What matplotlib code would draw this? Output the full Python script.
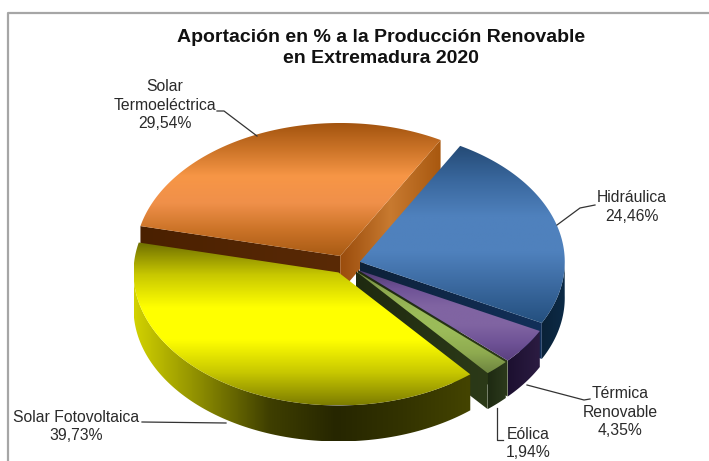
import numpy as np
import matplotlib
matplotlib.use("Agg")
import matplotlib.pyplot as plt
from matplotlib.colors import LinearSegmentedColormap
from matplotlib.patches import Polygon

plt.rcParams['font.family'] = ['Liberation Sans', 'DejaVu Sans']

title_text = "Aportación en % a la Producción Renovable\nen Extremadura 2020"
categories = ["Solar Fotovoltaica", "Eólica", "Térmica\nRenovable", "Hidráulica", "Solar\nTermoeléctrica"]
values = [39.73, 1.94, 4.35, 24.46, 29.54]
value_labels = ["39,73%", "1,94%", "4,35%", "24,46%", "29,54%"]

top_colors = [["#6e6e00", "#c8c800", "#ffff00", "#ffff00", "#c8c800", "#7d7d00"],
              ["#6e8540", "#8fab50", "#9bbb59", "#9bbb59", "#8fab50", "#6e8540"],
              ["#4f3a70", "#6f5296", "#8064a2", "#8064a2", "#6f5296", "#5a4080"],
              ["#244a75", "#3a689e", "#4f81bd", "#4f81bd", "#3a689e", "#24507f"],
              ["#a3540f", "#cc7428", "#f79646", "#f0904a", "#cc7428", "#a85a14"]]
side_colors = [["#d2d200", "#8a8a00", "#3f3f00", "#262600", "#333300", "#444400"],
               ["#1e2a12", "#2c3a1c"],
               ["#1c1030", "#2c1c42"],
               ["#0a2238", "#0c2a46"],
               None]
radial_colors = [None, ["#1f2a10", "#2c3a18"], ["#1f2a10", "#2c3a18"], ["#0d2138", "#12305a"], ["#4a2000", "#5a2a06"]]
termo_face = ["#9a4c0c", "#c87a30", "#a8580f"]

W, H = 709, 461
CX, CY, RX, RY, DEPTH = 346.0, 264.5, 205.0, 133.0, 36.0

fig = plt.figure(figsize=(W / 100, H / 100), dpi=100, facecolor="white")
ax = fig.add_axes([0, 0, 1, 1])
wedges, _ = ax.pie(values, explode=[0.07] * 5, startangle=167, radius=1, normalize=True)
ax.set_aspect("auto")
xlim = (-CX / RX, (W - CX) / RX)
ylim = ((CY - H) / RY, CY / RY)
d = DEPTH / RY


def px(x, y):
    return (x - CX) / RX, (CY - y) / RY


def cmap(cols):
    return LinearSegmentedColormap.from_list("c", cols)


def fill(poly, cols, vertical, z):
    xs, ys = poly[:, 0], poly[:, 1]
    grad = np.linspace(0, 1, 256)
    arr = grad[:, None] if vertical else grad[None, :]
    im = ax.imshow(arr, cmap=cmap(cols), extent=(xs.min(), xs.max(), ys.min(), ys.max()),
                   origin="upper" if vertical else "lower", aspect="auto", zorder=z, interpolation="bilinear")
    patch = Polygon(poly, closed=True, transform=ax.transData, fc="none", ec="none")
    ax.add_patch(patch)
    im.set_clip_path(patch)


order = [4, 3, 2, 1, 0]
z = 1
for i in order:
    w = wedges[i]
    w.set_visible(False)
    cx, cy = w.center
    t1, t2 = w.theta1, w.theta2
    # radial faces
    for ang, normal, is_start in ((t1, t1 - 90, True), (t2, t2 + 90, False)):
        if np.sin(np.radians(normal)) < 0:
            a = np.radians(ang)
            ex, ey = cx + np.cos(a), cy + np.sin(a)
            poly = np.array([[cx, cy], [ex, ey], [ex, ey - d], [cx, cy - d]])
            cols = termo_face if i == 4 and is_start else radial_colors[i]
            fill(poly, cols, False, z)
            z += 1
    # outer wall, front part only
    if side_colors[i] is not None:
        angs = np.radians(np.linspace(t1, t2, 200))
        angs = angs[np.sin(angs) <= 0.02]
        top = np.c_[cx + np.cos(angs), cy + np.sin(angs)]
        bot = np.c_[cx + np.cos(angs), cy + np.sin(angs) - d][::-1]
        fill(np.r_[top, bot], side_colors[i], False, z)
        z += 1
    # top face
    angs = np.radians(np.linspace(t1, t2, 200))
    poly = np.r_[[[cx, cy]], np.c_[cx + np.cos(angs), cy + np.sin(angs)]]
    fill(poly, top_colors[i], True, z)
    z += 1

ax.set_xlim(xlim)
ax.set_ylim(ylim)
ax.axis("off")

# frame
frame_color = "#a6a6a6"
ax.plot(*zip(px(8, 461), px(8, 13), px(709, 13)), color=frame_color, lw=1.6, zorder=50, clip_on=True)

# title
tx, ty = px(381, 48)
ax.text(tx, ty, title_text, ha="center", va="center", fontsize=14, fontweight="bold", color="#111111",
        linespacing=1.34, zorder=60)

# labels
label_pos = [(76, 426.5), (528, 443.5), (620, 412), (632, 207), (165, 105)]
leaders = [[(142, 422), (226, 423)],
           [(497, 408), (497, 440), (503, 440)],
           [(527, 385), (584, 400), (590, 399)],
           [(595, 205), (580, 208), (557, 225)],
           [(217, 111), (224, 111), (257, 136)]]
for i, (name, val) in enumerate(zip(categories, value_labels)):
    lx, ly = px(*label_pos[i])
    ax.text(lx, ly, f"{name}\n{val}", ha="center", va="center", fontsize=11.3, color="#2a2a2a",
            linespacing=1.3, zorder=60)
    pts = [px(*p) for p in leaders[i]]
    ax.plot(*zip(*pts), color="#333333", lw=0.9, zorder=40)

fig.savefig("out.png", dpi=100, facecolor="white")
